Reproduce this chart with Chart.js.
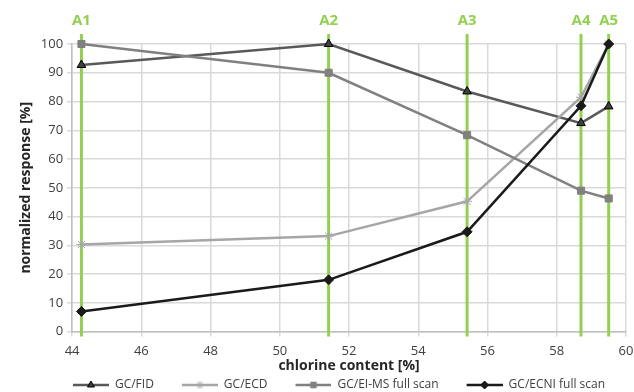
<!DOCTYPE html>
<html>
<head>
<meta charset="utf-8">
<script src="https://cdn.jsdelivr.net/npm/chart.js@4.4.1/dist/chart.umd.min.js"></script>
<style>
  body { margin: 0; background: #fff; }
  #wrap { width: 634px; height: 392px; }
</style>
</head>
<body>
<div id="wrap"><canvas id="myChart" width="634" height="392"></canvas></div>
<script>
// chlorine content of the five samples
const chlorine = [44.27, 51.41, 55.41, 58.7, 59.5];
const sampleNames = ['A1', 'A2', 'A3', 'A4', 'A5'];

const fid = [92.7, 100, 83.5, 72.5, 78.3];
const ecd = [30.3, 33.2, 45.3, 81.5, 100];
const eims = [100, 90, 68.3, 49, 46.3];
const ecni = [7, 18, 34.7, 78.5, 100];

const xTicks = [44, 46, 48, 50, 52, 54, 56, 58, 60];
const yTicks = [0, 10, 20, 30, 40, 50, 60, 70, 80, 90, 100];

const FONT = "'Open Sans', 'Liberation Sans', sans-serif";
const GAP = 26;   // blank space in front of each legend icon
const ICON = 36;  // legend line length

function toPoints(values) {
  return values.map((v, i) => ({ x: chlorine[i], y: v }));
}

// little canvas with line + marker for the legend
function legendIcon(color, style, fill, border, size) {
  const c = document.createElement('canvas');
  c.width = GAP + ICON;
  c.height = 12;
  const g = c.getContext('2d');
  g.strokeStyle = color;
  g.lineWidth = 2.5;
  g.beginPath();
  g.moveTo(GAP, 6);
  g.lineTo(GAP + ICON, 6);
  g.stroke();
  g.fillStyle = fill;
  g.strokeStyle = border;
  g.lineWidth = 1;
  Chart.helpers.drawPoint(g, {
    pointStyle: style, radius: size, rotation: 0, borderWidth: 1
  }, GAP + ICON / 2, 6);
  return c;
}

// order: lower = drawn on top (ECNI on top like the original)
const series = [
  { label: 'GC/FID', data: fid, color: '#595959', style: 'triangle', fill: '#404040', border: '#000', r: 5, order: 4 },
  { label: 'GC/ECD', data: ecd, color: '#a6a6a6', style: 'star', fill: '#a6a6a6', border: '#a6a6a6', r: 5, order: 3 },
  { label: 'GC/EI-MS full scan', data: eims, color: '#808080', style: 'rect', fill: '#808080', border: '#808080', r: 5, order: 2 },
  { label: 'GC/ECNI full scan', data: ecni, color: '#1a1a1a', style: 'rectRot', fill: '#1a1a1a', border: '#1a1a1a', r: 5, order: 1 }
];

// green sample lines + labels
const sampleLines = {
  id: 'sampleLines',
  beforeDatasetsDraw(chart) {
    const ctx = chart.ctx;
    const x = chart.scales.x;
    const area = chart.chartArea;
    ctx.save();
    ctx.strokeStyle = '#92d050';
    ctx.lineWidth = 3;
    ctx.fillStyle = '#92d050';
    ctx.font = 'bold 15px ' + FONT;
    ctx.textAlign = 'center';
    ctx.textBaseline = 'middle';
    chlorine.forEach((c, i) => {
      const px = x.getPixelForValue(c);
      ctx.beginPath();
      ctx.moveTo(px, area.top - 10);
      ctx.lineTo(px, area.bottom + 5);
      ctx.stroke();
      ctx.fillText(sampleNames[i], px, area.top - 23);
    });
    ctx.restore();
  }
};

function makeChart() {
  const ctx = document.getElementById('myChart');
  const myChart = new Chart(ctx, {
    type: 'line',
    data: {
      datasets: series.map(s => ({
        label: s.label,
        data: toPoints(s.data),
        order: s.order,
        borderColor: s.color,
        borderWidth: 2.5,
        pointStyle: s.style,
        pointRadius: s.r,
        pointBackgroundColor: s.fill,
        pointBorderColor: s.border,
        pointBorderWidth: 1,
        clip: false,
        icon: legendIcon(s.color, s.style, s.fill, s.border, 4)
      }))
    },
    options: {
      responsive: false,
      animation: false,
      layout: { padding: { top: 44, right: 0, left: 18, bottom: -9 } },
      plugins: {
        legend: {
          position: 'bottom',
          labels: {
            usePointStyle: true,
            pointStyleWidth: GAP + ICON,
            color: '#404040',
            font: { family: FONT, size: 12 },
            padding: 2,
            boxHeight: 12,
            generateLabels(chart) {
              return chart.data.datasets.map((d, i) => ({
                text: d.label,
                pointStyle: d.icon,
                fillStyle: d.borderColor,
                strokeStyle: d.borderColor,
                lineWidth: 0,
                datasetIndex: i,
                fontColor: '#404040'
              }));
            }
          }
        },
        tooltip: { enabled: false }
      },
      scales: {
        x: {
          type: 'linear',
          min: 44,
          max: 60,
          afterBuildTicks(scale) {
            scale.ticks = xTicks.map(v => ({ value: v }));
          },
          afterFit(scale) {
            // let the plot run closer to the right edge, like the original
            scale.paddingRight = 8;
          },
          grid: { color: '#d9d9d9', lineWidth: 1.5, drawTicks: true, tickLength: 5 },
          border: { color: '#c0c0c0', width: 1.5 },
          ticks: { color: '#404040', font: { family: FONT, size: 13 }, padding: 7 },
          title: {
            display: true,
            text: 'chlorine content [%]',
            color: '#262626',
            font: { family: FONT, size: 14, weight: 'bold' },
            padding: { top: -9, bottom: 3 }
          }
        },
        y: {
          min: 0,
          max: 100,
          afterBuildTicks(scale) {
            scale.ticks = yTicks.map(v => ({ value: v }));
          },
          grid: { color: '#d9d9d9', lineWidth: 1.5, tickLength: 5 },
          border: { color: '#c0c0c0', width: 1.5 },
          ticks: { color: '#404040', font: { family: FONT, size: 13 }, padding: 4 },
          title: {
            display: true,
            text: 'normalized response [%]',
            color: '#262626',
            font: { family: FONT, size: 14, weight: 'bold' },
            padding: { top: 0, bottom: 2 }
          }
        }
      }
    },
    plugins: [sampleLines]
  });
  return myChart;
}

document.addEventListener('DOMContentLoaded', function() {
  makeChart();
});
</script>
</body>
</html>
